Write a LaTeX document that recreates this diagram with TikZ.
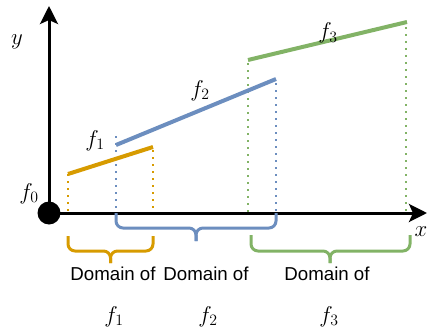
\documentclass[tikz,border=0pt]{standalone}
\usepackage{fontspec}
\newfontfamily\labelfont{Liberation Sans}
\usetikzlibrary{arrows.meta}
\definecolor{forange}{HTML}{D79B00}
\definecolor{fblue}{HTML}{6C8EBF}
\definecolor{fgreen}{HTML}{82B366}
\begin{document}
\begin{tikzpicture}[x=1pt,y=-1pt,
  axis/.style={line width=3pt, -{Stealth[length=18pt,width=18pt,inset=4pt]}},
  seg/.style={line width=4pt},
  guide/.style={line width=2pt, dash pattern=on 2pt off 5pt},
  brace/.style={line width=3pt, rounded corners=7pt},
  mathlbl/.style={font=\fontsize{20.74}{25}\selectfont, inner sep=0pt, anchor=base, scale=1.1, transform shape},
  domlbl/.style={font=\labelfont\fontsize{18.7}{22}\selectfont, inner sep=0pt, anchor=base}]
\useasboundingbox (0,0) rectangle (428,329);

% named points
\coordinate (ytip) at (49,6);
\coordinate (xtip) at (427,213);
\coordinate (a1) at (68,174);  \coordinate (b1) at (153,147);
\coordinate (a2) at (116,145); \coordinate (b2) at (276,79);
\coordinate (a3) at (248,60);  \coordinate (b3) at (407,22);
\coordinate (a1x) at (68,213);  \coordinate (b1x) at (153,213);
\coordinate (a2t) at (116,136); \coordinate (a2x) at (116,213);
\coordinate (b2t) at (276,83);  \coordinate (b2x) at (276,213);
\coordinate (a3t) at (248,63);  \coordinate (a3x) at (248,213);
\coordinate (b3t) at (406,27);  \coordinate (b3x) at (406,213);
\coordinate (b1t) at (153,150);

% dotted guides
\draw[guide, forange] (a1) -- (a1x);
\draw[guide, forange] (b1t) -- (b1x);
\draw[guide, fblue] (a2t) -- (a2x);
\draw[guide, fblue] (b2t) -- (b2x);
\draw[guide, fgreen] (a3t) -- (a3x);
\draw[guide, fgreen] (b3t) -- (b3x);

% origin dot and axes
\node[circle, fill=black, minimum size=23pt, inner sep=0pt] (o) at (49,213) {};
\draw[axis] (o.center) -- (ytip);
\draw[axis] (o.center) -- (xtip);

% function segments
\draw[seg, forange] (a1) -- (b1);
\draw[seg, fblue] (a2) -- (b2);
\draw[seg, fgreen] (a3) -- (b3);

% braces
\draw[brace, forange] (68,236) -- (68,251) -- (110.5,251) -- (110.5,263);
\draw[brace, forange] (153,236) -- (153,251) -- (110.5,251) -- (110.5,263);
\draw[brace, fblue] (116,213) -- (116,228) -- (196,228) -- (196,241);
\draw[brace, fblue] (276,213) -- (276,228) -- (196,228) -- (196,241);
\draw[brace, fgreen] (251,235) -- (251,251) -- (330,251) -- (330,263);
\draw[brace, fgreen] (410,235) -- (410,251) -- (330,251) -- (330,263);

% labels
\node[mathlbl] (ly) at (17,45) {$y$};
\node[mathlbl] (lx) at (421,236) {$x$};
\node[mathlbl] (l0) at (29,199) {$f_0$};
\node[mathlbl] (l1) at (95,146) {$f_1$};
\node[mathlbl] (l2) at (200,96) {$f_2$};
\node[mathlbl] (l3) at (328,39) {$f_3$};

\node[domlbl] (d1) at (113,280) {Domain of};
\node[domlbl] (d2) at (206,280) {Domain of};
\node[domlbl] (d3) at (327,280) {Domain of};
\node[mathlbl] (g1) at (114,322) {$f_1$};
\node[mathlbl] (g2) at (208,322) {$f_2$};
\node[mathlbl] (g3) at (329,322) {$f_3$};
\end{tikzpicture}
\end{document}
